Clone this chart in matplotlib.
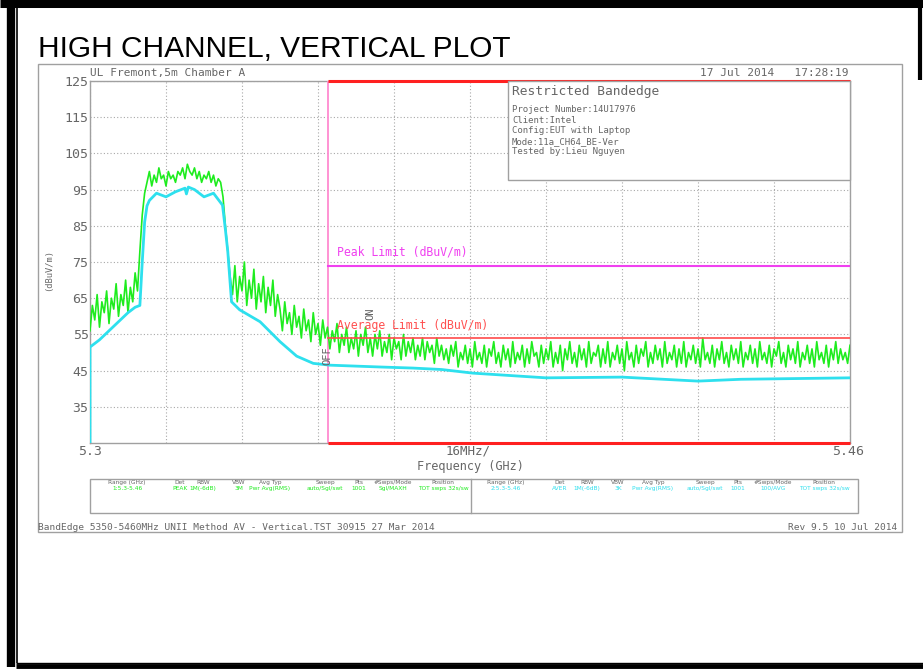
import numpy as np
import matplotlib.pyplot as plt
from matplotlib.patches import Rectangle
from matplotlib.lines import Line2D

# ============================================================================ #
# data

# peak trace (green), one value per 0.5 MHz from 5.300 to 5.460 GHz
peak_dbuv = [
    # 5.300 - 5.310, skirt below the channel
    56, 63, 59, 66, 57, 64, 61, 67, 58, 65, 62, 69, 60, 66, 63, 70, 61, 68,
    64, 72,
    # rising edge
    67, 78, 88, 94,
    # channel plateau
    97, 100, 96, 99, 97, 101, 98, 99, 96, 100, 98, 99, 97, 100, 99, 101,
    98, 102, 100, 99, 101, 98, 100, 97, 99, 98, 100, 97, 99, 96, 98, 97,
    # falling edge
    93, 85, 78, 71,
    # upper skirt
    66, 74, 64, 71, 67, 75, 63, 70, 65, 73, 62, 69, 64, 71, 61, 68, 63, 70,
    60, 66,
    62, 56, 64, 58, 61, 55, 63, 57, 60, 54, 62, 56, 59, 53, 61, 55, 58, 52,
    59, 54,
    # restricted band
    57, 51, 56, 53, 58, 50, 55, 52, 57, 50, 54, 51, 56, 49, 55, 52, 57, 50,
    54, 49, 55, 51, 56, 49, 53, 50, 55, 48, 54, 51, 53, 48, 55, 49, 53, 50,
    54, 48, 52, 49, 54, 48, 53, 50, 52, 47, 54, 49, 52, 48,
    51, 47, 52, 49, 53, 46, 50, 48, 52, 47, 51, 46, 53, 48, 50, 47, 52, 46,
    51, 49, 53, 47, 50, 46, 52, 48, 51, 46, 53, 47, 50, 48, 52, 46, 51, 47,
    53, 49, 50, 46, 52, 47, 51, 48, 53, 46, 50, 47, 52, 45, 51, 48, 53, 47,
    50, 46, 52, 48, 51, 46, 53, 47, 50, 49, 52, 46, 51, 47, 53, 46, 50, 48,
    52, 47, 51, 45, 53, 48, 50, 46, 52, 47, 51, 49, 53, 46, 50, 47, 52, 48,
    51, 46, 53, 47, 50, 48, 52, 46, 51, 47, 53, 46, 50, 48, 52, 47, 51, 46,
    54, 48, 50, 47, 52, 46, 51, 48, 53, 47, 50, 46, 52, 48, 51, 47, 53, 46,
    50, 48, 52, 47, 51, 46, 53, 48, 50, 47, 52, 46, 51, 49, 53, 47, 50, 46,
    52, 48, 51, 47, 53, 46, 50, 48, 52, 47, 51, 46, 53, 48, 50, 47, 52, 46,
    51, 48, 53, 47, 51, 48, 50, 47, 52]
peak_freq = np.linspace(5.300, 5.460, len(peak_dbuv))

# average trace (cyan)
avg_freq = [5.3000, 5.3000, 5.3020, 5.3040, 5.3060, 5.3080, 5.3095, 5.3105,
            5.3110, 5.3115, 5.3120, 5.3125, 5.3140, 5.3160, 5.3180, 5.3200,
            5.3203, 5.3207, 5.3220, 5.3240, 5.3260, 5.3279, 5.3285, 5.3290,
            5.3298, 5.3315, 5.3358, 5.3400, 5.3435, 5.3470, 5.3505, 5.3610,
            5.3680, 5.3740, 5.3806, 5.3960, 5.4120, 5.4280, 5.4370, 5.4600]
avg_dbuv = [25.0, 51.5, 53.5, 56.0, 58.5, 61.0, 62.5, 63.0,
            75.0, 86.0, 90.5, 92.0, 94.0, 93.0, 94.4, 95.4,
            93.8, 95.7, 95.0, 93.0, 94.0, 90.7, 84.0, 78.0,
            64.0, 61.8, 58.5, 53.0, 49.0, 47.0, 46.5, 46.0,
            45.7, 45.3, 44.3, 43.0, 43.2, 42.1, 42.6, 43.0]

# limits and restricted band edge
band_edge = 5.35
peak_limit = 74
avg_limit = 54
f_start, f_stop = 5.30, 5.46
ref_top, ref_bottom = 125, 25
y_ticks = [125, 115, 105, 95, 85, 75, 65, 55, 45, 35]

# settings table below the plot
table_head = ['Range (GHz)', 'Det', 'RBW', 'VBW', 'Avg Typ', 'Sweep', 'Pts',
              '#Swps/Mode', 'Position']
table_row1 = ['1:5.3-5.46', 'PEAK', '1M(-6dB)', '3M', 'Pwr Avg(RMS)',
              'auto/Sgl/swt', '1001', 'Sgl/MAXH', 'TOT swps 32s/sw']
table_row2 = ['2:5.3-5.46', 'AVER', '1M(-6dB)', '3K', 'Pwr Avg(RMS)',
              'auto/Sgl/swt', '1001', '100/AVG', 'TOT swps 32s/sw']

info_lines = ['Project Number:14U17976', 'Client:Intel',
              'Config:EUT with Laptop', 'Mode:11a_CH64_BE-Ver',
              'Tested by:Lieu Nguyen']

# ============================================================================ #

W, H = 923, 670
GREEN = '#1eec1e'
CYAN = '#2ee0ee'
RED = '#ff2020'
MAGENTA = '#f040f0'
GREY = '#666666'
MONO = 'DejaVu Sans Mono'


def fx(x):
    return x / W


def fy(y):
    return 1 - y / H


def label(x, y, s, **kw):
    kw.setdefault('family', MONO)
    kw.setdefault('color', GREY)
    kw.setdefault('fontsize', 7)
    fig.text(fx(x), fy(y), s, **kw)


fig = plt.figure(figsize=(W / 100, H / 100), dpi=100)

# page frame
for x0, x1, y0, y1, lw in [(0, W, 3, 3, 6.5), (11, 11, 0, 667, 6),
                          (16.5, 16.5, 5, 663, 1.2), (16, W, 666, 666, 3.5),
                          (16, W, 663, 663, 1), (920, 920, 0, 80, 3)]:
    fig.add_artist(Line2D([fx(x0), fx(x1)], [fy(y0), fy(y1)], color='black',
                          lw=lw, solid_capstyle='butt'))

fig.text(fx(38), fy(57), 'HIGH CHANNEL, VERTICAL PLOT',
         family=['Liberation Sans Narrow', 'Liberation Sans'], fontsize=21.5,
         color='black', va='baseline')

# analyser screen outline
fig.add_artist(Rectangle((fx(38), fy(532)), 864 / W, 468 / H, fill=False,
                         ec='#a0a0a0', lw=1, transform=fig.transFigure))

ax = fig.add_axes([fx(90), fy(443), 760 / W, 362 / H])
ax.set_xlim(f_start, f_stop)
ax.set_ylim(ref_bottom, ref_top)
ax.set_xticks(np.linspace(f_start, f_stop, 11))
ax.set_xticklabels([])
ax.set_yticks(y_ticks)
ax.set_yticklabels([str(v) for v in y_ticks], family=MONO, fontsize=9.5,
                   color=GREY)
ax.tick_params(length=0, pad=1)
ax.grid(True, color='#a8a8a8', linestyle=(0, (1, 2)), lw=0.8)
for sp in ax.spines.values():
    sp.set_color('#a0a0a0')
    sp.set_linewidth(1)

# limits
ax.plot([band_edge, f_stop], [ref_top, ref_top], color=RED, lw=2.2,
        solid_capstyle='butt', clip_on=False, zorder=4)
ax.plot([band_edge, f_stop], [ref_bottom, ref_bottom], color=RED, lw=2.2,
        solid_capstyle='butt', clip_on=False, zorder=4)
ax.plot([band_edge, band_edge], [ref_bottom, ref_top], color='#ff8ad0',
        lw=1.3, zorder=3)
ax.plot([band_edge, f_stop], [peak_limit, peak_limit], color=MAGENTA, lw=1.5,
        zorder=3)
ax.plot([band_edge, f_stop], [avg_limit, avg_limit], color='#ff4a4a', lw=1.2,
        zorder=5)

# traces
ax.plot(peak_freq, peak_dbuv, color=GREEN, lw=1.2, zorder=4)
ax.plot(avg_freq, avg_dbuv, color=CYAN, lw=2, zorder=4)

# screen annotations
label(90, 76, 'UL Fremont,5m Chamber A', fontsize=8)
label(848, 76, '17 Jul 2014   17:28:19', fontsize=8, ha='right')
label(337, 256, 'Peak Limit (dBuV/m)', fontsize=8.3, color=MAGENTA)
label(337, 329, 'Average Limit (dBuV/m)', fontsize=8.3, color='#ff5050')
label(370, 314, 'ON', fontsize=7.5, rotation=90, ha='center', va='center')
label(327, 356, 'OFF', fontsize=7.5, rotation=90, ha='center', va='center')
label(49, 270, '(dBuV/m)', fontsize=6.3, rotation=90, ha='center',
      va='center')
label(90, 455, '5.3', fontsize=9.5, ha='center')
label(468, 455, '16MHz/', fontsize=9, ha='center')
label(848, 455, '5.46', fontsize=9.5, ha='center')
label(470, 470, 'Frequency (GHz)', fontsize=8.6, ha='center')
label(38, 530, 'BandEdge 5350-5460MHz UNII Method AV - Vertical.TST 30915 '
      '27 Mar 2014', fontsize=6.8)
label(897, 530, 'Rev 9.5 10 Jul 2014', fontsize=6.8, ha='right')

# title block inside the plot
fig.add_artist(Rectangle((fx(508), fy(180)), 342 / W, 99 / H, fill=True,
                         fc='white', ec='#a0a0a0', lw=1,
                         transform=fig.transFigure, zorder=6))
label(512, 95, 'Restricted Bandedge', fontsize=9.3, zorder=7)
for k, line in enumerate(info_lines):
    label(512, 112 + k * 10.6, line, fontsize=6.5, zorder=7)

# settings table
fig.add_artist(Rectangle((fx(90), fy(513)), 768 / W, 34 / H, fill=False,
                         ec='#a0a0a0', lw=1, transform=fig.transFigure))
fig.add_artist(Line2D([fx(471), fx(471)], [fy(479), fy(513)],
                      color='#a0a0a0', lw=1))
left_cols = [127, 180, 203, 239, 270, 325, 359, 393, 443]
right_cols = [506, 560, 587, 618, 653, 705, 738, 773, 824]
for cols, row, colour in [(left_cols, table_row1, GREEN),
                          (right_cols, table_row2, CYAN)]:
    for cx, head, val in zip(cols, table_head, row):
        label(cx, 484, head, fontsize=4.2, ha='center', family='DejaVu Sans')
        label(cx, 490, val, fontsize=4.2, ha='center', color=colour,
              family='DejaVu Sans')

fig.savefig('out.png', dpi=100)
